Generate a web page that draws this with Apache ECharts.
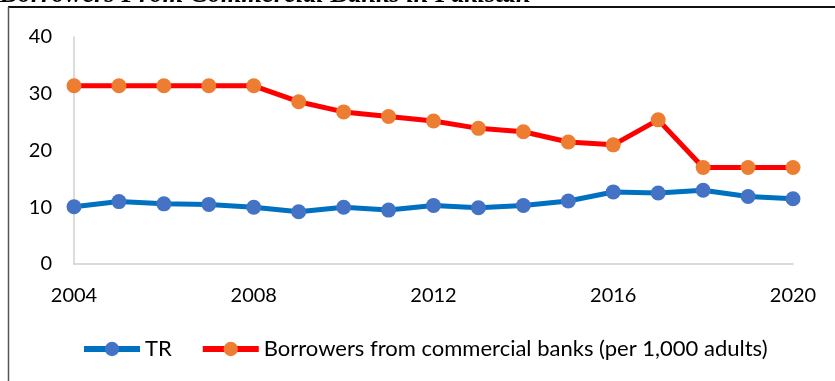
<!DOCTYPE html>
<html>
<head>
<meta charset="utf-8">
<script src="https://cdn.jsdelivr.net/npm/echarts@6/dist/echarts.min.js"></script>
<style>
  html, body { margin: 0; padding: 0; background: #fff; }
  #chart { width: 835px; height: 381px; }
</style>
</head>
<body>
<div id="chart"></div>
<script>
// values
const years = [2004, 2005, 2006, 2007, 2008, 2009, 2010, 2011, 2012,
  2013, 2014, 2015, 2016, 2017, 2018, 2019, 2020];
const trValues = [10.1, 11.0, 10.6, 10.5, 10.0, 9.2, 10.0, 9.5, 10.3,
  9.9, 10.3, 11.1, 12.7, 12.5, 13.0, 11.9, 11.5];
const borrowerValues = [31.4, 31.4, 31.4, 31.4, 31.4, 28.6, 26.8, 26.0, 25.2,
  23.9, 23.3, 21.5, 21.0, 25.4, 17.0, 17.0, 17.0];
const seriesNames = ['TR', 'Borrowers from commercial banks (per 1,000 adults)'];
const titleText = 'Borrowers From Commercial Banks in Pakistan';

const font = 'Lato, "Liberation Sans", sans-serif';

const chart = echarts.init(document.getElementById('chart'));

const toPairs = (vals) => vals.map((v, i) => [years[i], v]);

const option = {
  animation: false,
  backgroundColor: '#fff',
  graphic: [
    // caption above the frame, cut off by the page top
    {
      type: 'text',
      x: 0,
      y: 9,
      style: {
        text: titleText,
        font: 'italic bold 26.5px "Liberation Serif", serif',
        fill: '#000',
        verticalAlign: 'bottom',
      },
    },
    {
      type: 'rect',
      shape: { x: 0, y: 7, width: 835, height: 381 },
      style: { fill: '#fff' },
    },
    {
      type: 'line',
      shape: { x1: 8, y1: 7, x2: 835, y2: 7 },
      style: { stroke: '#111', lineWidth: 2 },
    },
    {
      type: 'line',
      shape: { x1: 8.5, y1: 7, x2: 8.5, y2: 381 },
      style: { stroke: '#555', lineWidth: 1.5 },
    },
  ],
  grid: {
    left: 74,
    right: 42,
    top: 37,
    bottom: 117,
    containLabel: false,
  },
  legend: {
    left: 76,
    top: 333,
    itemWidth: 56,
    itemHeight: 18,
    itemGap: 28,
    lineStyle: { width: 6 },
    textStyle: { fontFamily: font, fontSize: 22, color: '#000' },
    data: seriesNames,
  },
  xAxis: {
    type: 'value',
    min: 2004,
    max: 2020,
    interval: 4,
    axisLine: { show: true, lineStyle: { color: '#D0D0D0', width: 1.5 } },
    axisTick: { show: false },
    splitLine: { show: false },
    axisLabel: {
      fontFamily: font,
      fontSize: 20,
      color: '#000',
      margin: 22,
      formatter: (v) => String(v),
    },
  },
  yAxis: {
    type: 'value',
    min: 0,
    max: 40,
    interval: 10,
    axisLine: { show: true, lineStyle: { color: '#D0D0D0', width: 1.5 } },
    axisTick: { show: false },
    splitLine: { show: false },
    axisLabel: {
      fontFamily: font,
      fontSize: 20,
      color: '#000',
      margin: 22,
    },
  },
  series: [
    {
      name: seriesNames[0],
      type: 'line',
      data: toPairs(trValues),
      symbol: 'circle',
      symbolSize: 15,
      lineStyle: { color: '#0070C0', width: 5 },
      itemStyle: { color: '#4472C4' },
      z: 3,
    },
    {
      name: seriesNames[1],
      type: 'line',
      data: toPairs(borrowerValues),
      symbol: 'circle',
      symbolSize: 15,
      lineStyle: { color: '#FF0000', width: 5 },
      itemStyle: { color: '#ED7D31' },
      z: 2,
    },
  ],
};

chart.setOption(option);
</script>
</body>
</html>
